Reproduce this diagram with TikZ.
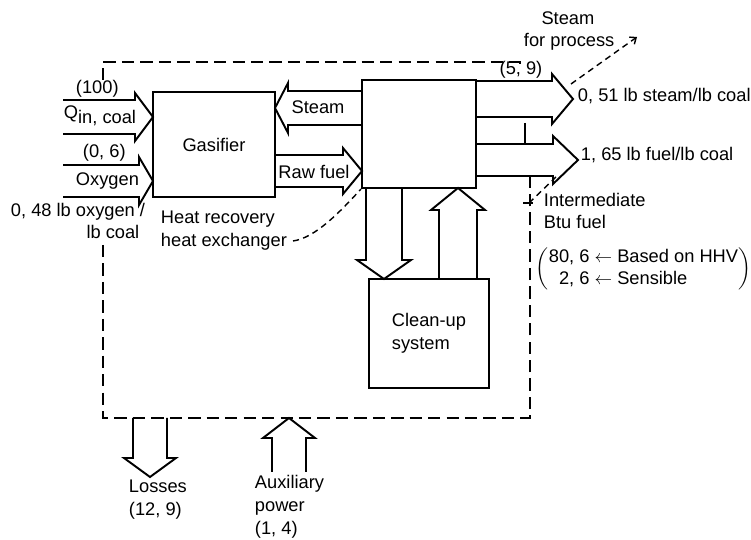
\documentclass[tikz,border=0pt]{standalone}
\usepackage{fontspec}
\setmainfont{Liberation Sans}
\usepackage{tikz}
\usetikzlibrary{arrows.meta}

\begin{document}
\begin{tikzpicture}[x=0.02cm,y=-0.02cm,
  font=\fontsize{10.4}{13}\selectfont,
  line width=1.1pt,
  unit/.style={draw,line width=1.2pt,inner sep=0pt,align=left},
  bound/.style={dash pattern=on 7pt off 3.5pt,line width=1pt},
  leader/.style={dash pattern=on 3.5pt off 2.5pt,line width=0.8pt},
  lbl/.style={inner sep=0pt,align=left,anchor=west}]
  \useasboundingbox (0,0) rectangle (751,540);

  % process units
  \node[unit,minimum width=2.44cm,minimum height=2.1cm] (gas) at (214,144.5) {Gasifier};
  \node[unit,minimum width=2.28cm,minimum height=2.16cm] (hx) at (419,134) {};
  \node[unit,minimum width=2.4cm,minimum height=2.18cm] (clean) at (429,333.5) {Clean-up\\system};

  % horizontal block arrows: tail/head base/tip/y/shaft/head
  \foreach \xa/\xh/\xb/\y/\s/\h in {63/135/153/117/17/24, 63/139/153/181/16/24,
      362/288/275/108/17/25, 275/343/362/171/16/23,
      476/552/573/99/18/25, 476/553/578/160/16/24}{
    \draw (\xa,\y-\s) -- (\xh,\y-\s) -- (\xh,\y-\h) -- (\xb,\y)
      -- (\xh,\y+\h) -- (\xh,\y+\s) -- (\xa,\y+\s);
  }
  % vertical block arrows: x/tail/head base/tip/shaft/head
  \foreach \x/\ya/\yh/\yb/\s/\h in {384/188/260/279/18/27, 458/279/210/188/19/27,
      150/418/458/477/17/26, 289/472/438/418/17/26}{
    \draw (\x-\s,\ya) -- (\x-\s,\yh) -- (\x-\h,\yh) -- (\x,\yb)
      -- (\x+\h,\yh) -- (\x+\s,\yh) -- (\x+\s,\ya);
  }
  \draw (525,123) -- (525,144);

  % control volume
  \draw[bound] (103,80) -- (103,62) -- (520,62) -- (520,68);
  \draw[bound] (103,245) -- (103,418) -- (530,418) -- (530,176);

  % inputs
  \node[lbl] (coal100) at (75,89) {(100)};
  \node[lbl] (qin) at (63,116) {Q\raisebox{-2.8pt}{in, coal}};
  \node[lbl] (oxy06) at (82,153) {(0, 6)};
  \node[lbl] (oxy) at (75,181) {Oxygen};
  \node[lbl] (oxyrate) at (10,221) {0, 48 lb oxygen /\\\hspace*{43pt}lb coal};

  % internal streams
  \node (steamin) at (318,107) {Steam};
  \node (rawfuel) at (314,172) {Raw fuel};
  \node[lbl] (hxlab) at (160,231) {Heat recovery\\heat exchanger};
  \draw[leader] (293,241) .. controls (315,238) and (340,212) .. (hx.south west);

  % outputs
  \node (steam59) at (521,70) {(5, 9)};
  \node[lbl] (sfp) at (523,31) {\hspace*{10pt}Steam\\for process};
  \coordinate (sfptip) at (637,37);
  \draw[leader,-{Straight Barb[length=3pt,width=5pt]}] (571,84) -- (sfptip);
  \node[lbl] (steamrate) at (577,96) {0, 51 lb steam/lb coal};
  \node[lbl] (fuelrate) at (580,155) {1, 65 lb fuel/lb coal};
  \node[lbl] (ibtu) at (543,211) {Intermediate\\Btu fuel};
  \draw (523,203) -- (533,203);
  \draw[leader] (529,203) -- (556,177);
  \node[lbl] (hhv) at (535,269) {$\left(\renewcommand{\arraystretch}{0.95}\begin{tabular}{@{}r@{ }l@{}}80, 6 & $\leftarrow$ Based on HHV\\
    2, 6 & $\leftarrow$ Sensible\end{tabular}\right)$};

  % boundary flows
  \node[lbl] (loss) at (128,500) {Losses\\(12, 9)};
  \node[lbl] (aux) at (254,507) {Auxiliary\\power\\(1, 4)};
\end{tikzpicture}
\end{document}
